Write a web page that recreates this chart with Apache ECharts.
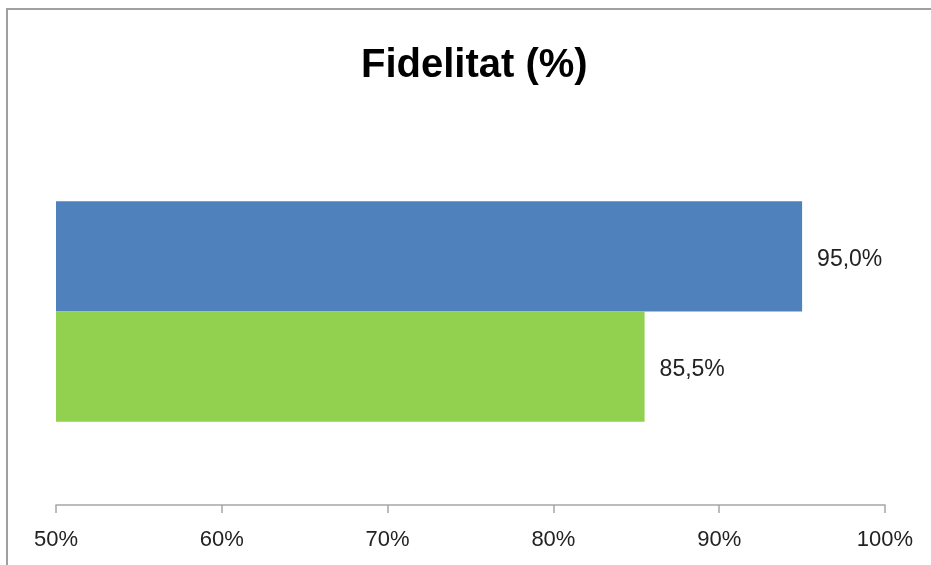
<!DOCTYPE html>
<html>
<head>
<meta charset="utf-8">
<script src="https://cdn.jsdelivr.net/npm/echarts@6/dist/echarts.min.js"></script>
<style>
html,body{margin:0;padding:0;background:#fff;}
#chart{width:931px;height:565px;}
</style>
</head>
<body>
<div id="chart"></div>
<script>
var categories = ['Fidelitat'];
var seriesA = [95.0];
var seriesB = [85.5];
var tickMin = 50, tickMax = 100, tickStep = 10;

var chart = echarts.init(document.getElementById('chart'), null, {renderer: 'canvas'});
function fmt(p){ return p.value.toFixed(1).replace('.', ',') + '%'; }
var labelStyle = {show: true, position: 'right', distance: 15, offset: [0, 3], formatter: fmt,
  fontFamily: 'Liberation Sans', fontSize: 23, color: '#222'};
chart.setOption({
  animation: false,
  backgroundColor: '#fff',
  title: {
    text: 'Fidelitat (%)', left: 356, top: 41,
    textStyle: {fontFamily: 'Liberation Sans', fontWeight: 'bold', fontSize: 40, color: '#000'}
  },
  graphic: [{
    type: 'rect', silent: true,
    shape: {x: 7, y: 9, width: 1000, height: 1000},
    style: {fill: 'none', stroke: '#a0a0a0', lineWidth: 2}
  }],
  grid: {left: 56, right: 46, top: 118, bottom: 60},
  xAxis: {
    type: 'value', min: tickMin, max: tickMax, interval: tickStep,
    axisLine: {show: true, lineStyle: {color: '#a6a6a6', width: 1.5}},
    axisTick: {show: true, length: 8, lineStyle: {color: '#a6a6a6', width: 1.5}},
    splitLine: {show: false},
    axisLabel: {margin: 24, formatter: '{value}%', fontFamily: 'Liberation Sans', fontSize: 22, color: '#222'}
  },
  yAxis: {
    type: 'category', data: categories, inverse: true,
    axisLine: {show: false}, axisTick: {show: false}, axisLabel: {show: false}, splitLine: {show: false}
  },
  series: [
    {type: 'bar', data: seriesA, barGap: '0%', barCategoryGap: '43%',
     itemStyle: {color: '#4F81BD'}, label: labelStyle},
    {type: 'bar', data: seriesB, barGap: '0%', barCategoryGap: '43%',
     itemStyle: {color: '#92D050'}, label: labelStyle}
  ]
});
</script>
</body>
</html>
